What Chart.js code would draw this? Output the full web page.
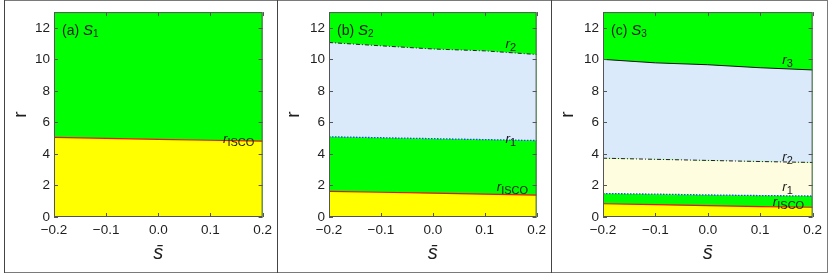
<!DOCTYPE html>
<html><head><meta charset="utf-8">
<script src="https://cdn.jsdelivr.net/npm/chart.js@4.4.1/dist/chart.umd.min.js"></script>
<style>
html,body{margin:0;padding:0;background:#fff;}
#wrap{position:relative;width:830px;height:277px;overflow:hidden;background:#fff;}
canvas{position:absolute;top:0;}
.fr{position:absolute;background:#7a7a7a;}
</style></head><body>
<div id="wrap">
  <div class="fr" style="left:4px;top:0;width:824px;height:1px;"></div>
  <div class="fr" style="left:4px;top:272px;width:824px;height:1px;"></div>
  <div class="fr" style="left:4px;top:0;width:1px;height:273px;background:#444;"></div>
  <div class="fr" style="left:277px;top:0;width:1px;height:273px;background:#444;"></div>
  <div class="fr" style="left:551px;top:0;width:1px;height:273px;background:#444;"></div>
  <div class="fr" style="left:827px;top:0;width:1px;height:273px;"></div>
  <canvas id="c1"></canvas>
  <canvas id="c2"></canvas>
  <canvas id="c3"></canvas>
</div>
<script>
// ---------- data ----------
const sBar = [-0.2, -0.1, 0.0, 0.1, 0.2];
const xTicks = [-0.2, -0.1, 0.0, 0.1, 0.2];
const yTicks = [0, 2, 4, 6, 8, 10, 12];

// (a) S1
const s1_rISCO = [5.05, 4.99, 4.93, 4.87, 4.81];
// (b) S2
const s2_rISCO = [1.63, 1.57, 1.51, 1.45, 1.39];
const s2_r1    = [5.09, 5.03, 4.97, 4.91, 4.85];
const s2_r2    = [11.07, 10.86, 10.66, 10.54, 10.31];
// (c) S3
const s3_rISCO = [0.84, 0.78, 0.72, 0.66, 0.62];
const s3_r1    = [1.49, 1.45, 1.40, 1.36, 1.33];
const s3_r2    = [3.73, 3.66, 3.59, 3.52, 3.46];
const s3_r3    = [10.00, 9.78, 9.66, 9.47, 9.33];

const panelNames = [['(a) ', 'S', '1'], ['(b) ', 'S', '2'], ['(c) ', 'S', '3']];

// ---------- styles ----------
const GREEN = '#00ff00', YELLOW = '#ffff00', LBLUE = '#dbeafb', LYELLOW = '#fffde0';
const FONT = '"Liberation Sans", Arial, sans-serif';

function pts(vals){ return sBar.map((x,i)=>({x:x, y:vals[i]})); }

function line(vals, color, dash, fill, bg, width){
  return { data: pts(vals), borderColor: color, borderWidth: width||1, borderDash: dash||[],
    fill: fill, backgroundColor: bg||'rgba(0,0,0,0)', pointRadius:0, pointHoverRadius:0, tension:0 };
}
const riscoStyle = v => line(v, '#ee1111', [], 'origin', YELLOW, 1.2);
const r1Style = (v,f,bg) => line(v, '#2448ff', [1.5,1.5], f, bg, 1.3);
const r2Style = (v,f,bg) => line(v, '#222', [4,2,1,2], f, bg, 1);
const r3Style = (v,f,bg) => line(v, '#111', [], f, bg, 1);

const panels = [
  { id:'c1', left:5, width:272, plotLeft:54, plotRight:266,
    datasets:[ riscoStyle(s1_rISCO) ],
    labels:[ {x:0.124, y:4.70, main:'r', sub:'ISCO'} ] },
  { id:'c2', left:278, width:273, plotLeft:329, plotRight:541,
    datasets:[ riscoStyle(s2_rISCO), r1Style(s2_r1,false), r2Style(s2_r2,'-1',LBLUE) ],
    labels:[ {x:0.140, y:10.70, main:'r', sub:'2'}, {x:0.140, y:4.70, main:'r', sub:'1'},
             {x:0.123, y:1.65, main:'r', sub:'ISCO'} ] },
  { id:'c3', left:552, width:275, plotLeft:603, plotRight:814,
    datasets:[ riscoStyle(s3_rISCO), r1Style(s3_r1,false), r2Style(s3_r2,'-1',LYELLOW), r3Style(s3_r3,'-1',LBLUE) ],
    labels:[ {x:0.142, y:9.68, main:'r', sub:'3'}, {x:0.142, y:3.58, main:'r', sub:'2'},
             {x:0.142, y:1.68, main:'r', sub:'1'}, {x:0.124, y:0.72, main:'r', sub:'ISCO'} ] }
];

function fmt(v){
  if (Math.abs(v) < 1e-9) return '0.0';
  return (v<0?'\u2212':'') + Math.abs(v).toFixed(1);
}

function drawRich(ctx, x, y, parts){
  let cx = x;
  parts.forEach(p=>{
    ctx.font = p.font;
    ctx.fillText(p.t, cx, y + p.dy);
    cx += ctx.measureText(p.t).width + (p.gap||0);
  });
}

panels.forEach((p, idx)=>{
  const cv = document.getElementById(p.id);
  cv.width = p.width; cv.height = 277;
  cv.style.left = p.left + 'px'; cv.style.width = p.width + 'px'; cv.style.height = '277px';
  const padRight = (p.left + p.width) - p.plotRight;

  const bgPlugin = {
    id:'bg'+idx,
    beforeDraw(chart){
      const a = chart.chartArea, c = chart.ctx;
      c.save(); c.fillStyle = GREEN; c.fillRect(a.left, a.top, a.right-a.left, a.bottom-a.top); c.restore();
    },
    afterDatasetsDraw(chart){
      const a = chart.chartArea, c = chart.ctx;
      c.save();
      c.strokeStyle = '#555'; c.lineWidth = 1;
      c.strokeRect(a.left+0.5, a.top+0.5, a.right-a.left-1, a.bottom-a.top-1);
      c.beginPath();
      const xs = chart.scales.x, ys = chart.scales.y;
      xs.ticks.forEach(t=>{
        const px = Math.round(xs.getPixelForValue(t.value))+0.5;
        c.moveTo(px, a.bottom); c.lineTo(px, a.bottom-4);
        c.moveTo(px, a.top); c.lineTo(px, a.top+4);
      });
      ys.ticks.forEach(t=>{
        const py = Math.round(ys.getPixelForValue(t.value))+0.5;
        c.moveTo(a.left, py); c.lineTo(a.left+4, py);
        c.moveTo(a.right, py); c.lineTo(a.right-4, py);
      });
      c.stroke();
      // curve labels
      c.fillStyle = '#1a1a1a'; c.textBaseline = 'alphabetic'; c.textAlign = 'left';
      p.labels.forEach(l=>{
        const px = xs.getPixelForValue(l.x), py = ys.getPixelForValue(l.y);
        drawRich(c, px, py, [
          {t:l.main, font:'italic 13.5px '+FONT, dy:0},
          {t:l.sub, font:'11px '+FONT, dy:3}
        ]);
      });
      // panel label
      const n = panelNames[idx];
      drawRich(c, a.left+8, a.top+23, [
        {t:n[0], font:'14px '+FONT, dy:0},
        {t:n[1], font:'italic 15px '+FONT, dy:0},
        {t:n[2], font:'10px '+FONT, dy:2}
      ]);
      c.restore();
    }
  };

  new Chart(cv, {
    type:'line',
    data:{ datasets: p.datasets },
    options:{
      responsive:false, animation:false, events:[],
      layout:{ padding:{ top:4, right:padRight, bottom:0, left:0 } },
      plugins:{ legend:{display:false}, tooltip:{enabled:false} },
      scales:{
        x:{ type:'linear', min:-0.2, max:0.2,
          afterBuildTicks(s){ s.ticks = xTicks.map(v=>({value:v})); },
          afterFit(s){ s.height = 60; },
          grid:{ display:false, drawTicks:false }, border:{ display:false },
          ticks:{ font:{ family:FONT, size:13.5 }, color:'#1e1e1e', padding:5, maxRotation:0, autoSkip:false,
                  callback:(v)=>fmt(v) },
          title:{ display:true, text:'s\u0304', color:'#1e1e1e',
                  font:{ family:FONT, size:20, style:'italic' }, padding:{ top:0, bottom:12 } }
        },
        y:{ type:'linear', min:0, max:13,
          afterBuildTicks(s){ s.ticks = yTicks.map(v=>({value:v})); },
          afterFit(s){ s.width = p.plotLeft - p.left; },
          grid:{ display:false, drawTicks:false }, border:{ display:false },
          ticks:{ font:{ family:FONT, size:13.5 }, color:'#1e1e1e', padding:4, autoSkip:false,
                  callback:(v)=>String(v) },
          title:{ display:true, text:'r', color:'#1e1e1e',
                  font:{ family:FONT, size:19 }, padding:{ top:4, bottom:0 } }
        }
      }
    },
    plugins:[bgPlugin]
  });
});
</script>
</body></html>
